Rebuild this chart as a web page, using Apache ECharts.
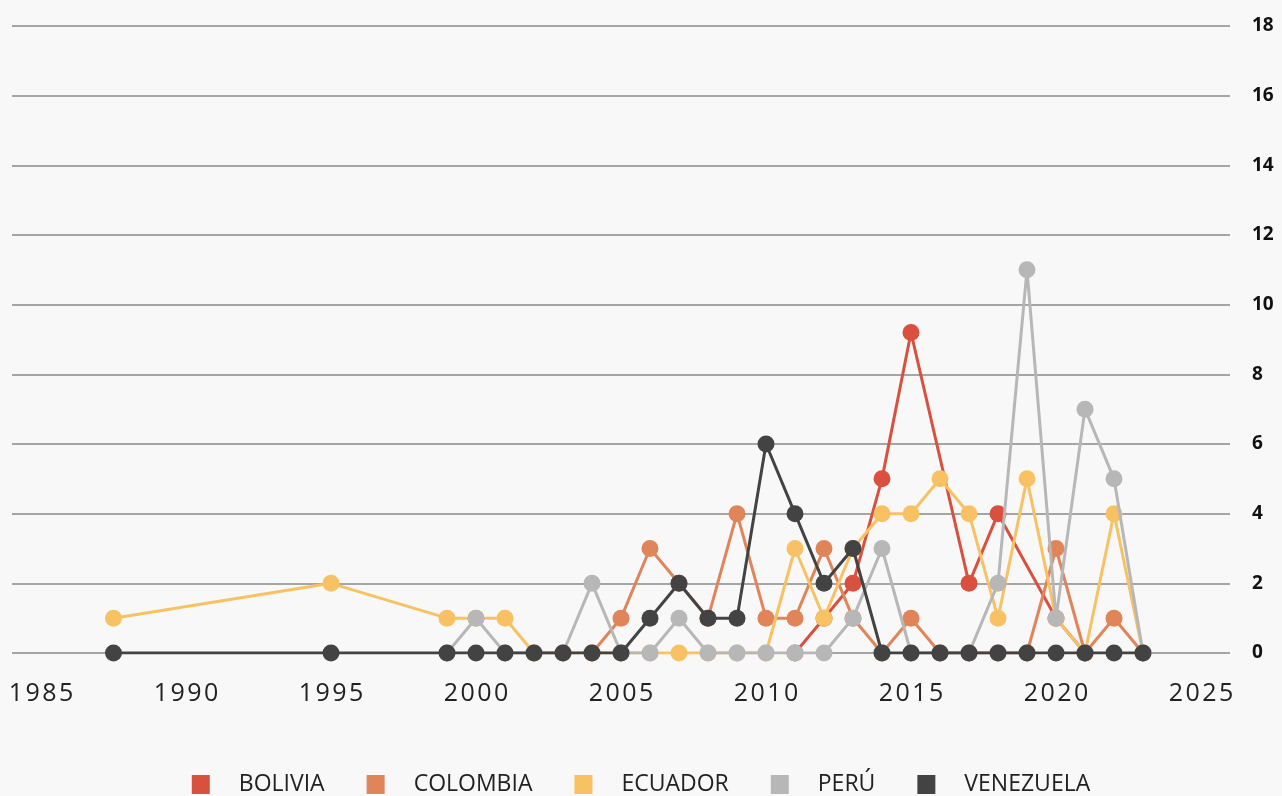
<!DOCTYPE html>
<html>
<head>
<meta charset="utf-8">
<script src="https://cdn.jsdelivr.net/npm/echarts@6/dist/echarts.min.js"></script>
<style>
  html, body { margin: 0; padding: 0; background: #f8f8f8; }
  #chart { width: 1282px; height: 796px; }
</style>
</head>
<body>
<div id="chart"></div>
<script>
// Series names (legend order)
const seriesNames = ['BOLIVIA', 'COLOMBIA', 'ECUADOR', 'PERÚ', 'VENEZUELA'];
const seriesColors = ['#d9503f', '#e0845a', '#f8c264', '#b7b7b7', '#434343'];

// Years and values per country
const boliviaYears = [2011, 2012, 2013, 2014, 2015, 2017, 2018, 2020, 2021];
const boliviaValues = [0, 1, 2, 5, 9.2, 2, 4, 1, 0];

const colombiaYears = [2004, 2005, 2006, 2007, 2008, 2009, 2010, 2011, 2012, 2013, 2014, 2015, 2016, 2017, 2018, 2019, 2020, 2021, 2022, 2023];
const colombiaValues = [0, 1, 3, 2, 1, 4, 1, 1, 3, 1, 0, 1, 0, 0, 0, 0, 3, 0, 1, 0];

const ecuadorYears = [1987.5, 1995, 1999, 2000, 2001, 2002, 2003, 2004, 2005, 2006, 2007, 2008, 2009, 2010, 2011, 2012, 2013, 2014, 2015, 2016, 2017, 2018, 2019, 2020, 2021, 2022, 2023];
const ecuadorValues = [1, 2, 1, 1, 1, 0, 0, 0, 0, 0, 0, 0, 0, 0, 3, 1, 3, 4, 4, 5, 4, 1, 5, 1, 0, 4, 0];

const peruYears = [1999, 2000, 2001, 2002, 2003, 2004, 2005, 2006, 2007, 2008, 2009, 2010, 2011, 2012, 2013, 2014, 2015, 2016, 2017, 2018, 2019, 2020, 2021, 2022, 2023];
const peruValues = [0, 1, 0, 0, 0, 2, 0, 0, 1, 0, 0, 0, 0, 0, 1, 3, 0, 0, 0, 2, 11, 1, 7, 5, 0];

const venezuelaYears = [1987.5, 1995, 1999, 2000, 2001, 2002, 2003, 2004, 2005, 2006, 2007, 2008, 2009, 2010, 2011, 2012, 2013, 2014, 2015, 2016, 2017, 2018, 2019, 2020, 2021, 2022, 2023];
const venezuelaValues = [0, 0, 0, 0, 0, 0, 0, 0, 0, 1, 2, 1, 1, 6, 4, 2, 3, 0, 0, 0, 0, 0, 0, 0, 0, 0, 0];

// Axis settings
const xMin = 1984, xMax = 2026, xLabelStep = 5;
const yMin = 0, yMax = 18, yStep = 2;

const allYears = [boliviaYears, colombiaYears, ecuadorYears, peruYears, venezuelaYears];
const allValues = [boliviaValues, colombiaValues, ecuadorValues, peruValues, venezuelaValues];

const chart = echarts.init(document.getElementById('chart'), null, { renderer: 'canvas' });

const series = seriesNames.map((name, i) => ({
  name: name,
  type: 'line',
  data: allYears[i].map((yr, j) => [yr, allValues[i][j]]),
  symbol: 'circle',
  symbolSize: 17,
  showSymbol: true,
  showAllSymbol: true,
  lineStyle: { width: 3, color: seriesColors[i] },
  itemStyle: { color: seriesColors[i] },
  emphasis: { disabled: true },
  animation: false,
  z: 2 + i
}));

chart.setOption({
  backgroundColor: '#f8f8f8',
  animation: false,
  color: seriesColors,
  grid: { left: 12, right: 52, top: 26, bottom: 143, containLabel: false },
  legend: {
    top: 768,
    left: 'center',
    itemWidth: 18,
    itemHeight: 19,
    itemGap: 42,
    icon: 'rect',
    textStyle: { fontFamily: 'Open Sans', fontSize: 23, color: '#222', padding: [0, 0, 0, 24] },
    data: seriesNames
  },
  xAxis: {
    type: 'value',
    min: xMin,
    max: xMax,
    interval: 1,
    axisLine: { show: false },
    axisTick: { show: false },
    splitLine: { show: false },
    axisLabel: {
      margin: 28,
      fontFamily: 'Open Sans',
      fontSize: 25,
      color: '#222',
      formatter: v => (v % xLabelStep === 0 ? String(v).split('').join('\u200A') : '')
    }
  },
  yAxis: {
    type: 'value',
    position: 'right',
    min: yMin,
    max: yMax,
    interval: yStep,
    axisLine: { show: false },
    axisTick: { show: false },
    splitLine: { show: true, lineStyle: { color: '#8a8a8a', width: 1.5 } },
    axisLabel: {
      margin: 22,
      fontFamily: 'Open Sans',
      fontWeight: 'bold',
      fontSize: 19,
      color: '#111'
    }
  },
  series: series
});
</script>
</body>
</html>
